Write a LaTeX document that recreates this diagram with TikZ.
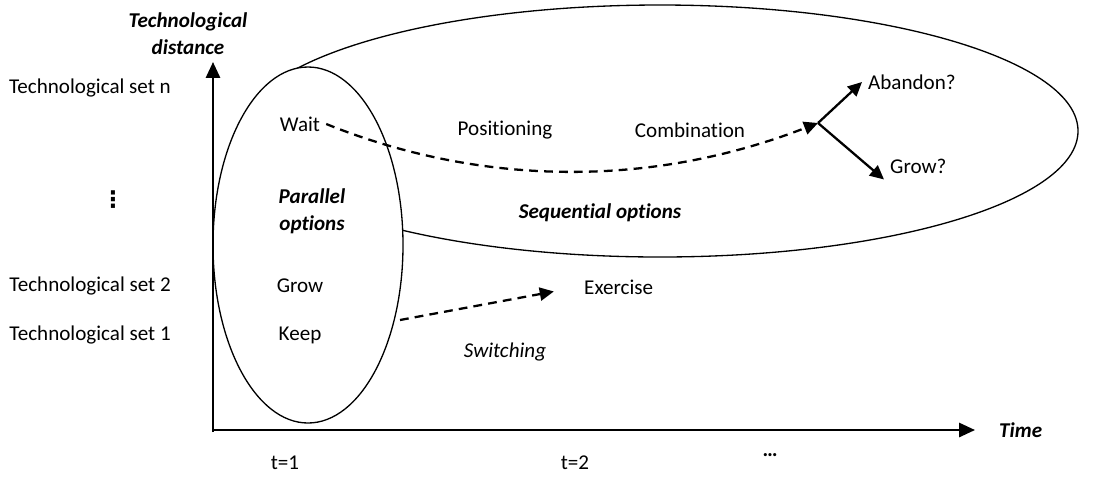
\documentclass[tikz,border=0pt]{standalone}
\usepackage{fontspec}
\setmainfont{Carlito}[Ligatures=NoCommon]
\newfontfamily\dotsfont{DejaVu Sans}
\usetikzlibrary{arrows.meta}

\tikzset{
  lbl/.style={font=\fontsize{12}{15}\selectfont},
  hdr/.style={font=\fontsize{12}{15.5}\selectfont\bfseries\itshape, align=center},
  axis/.style={line width=1.3pt, -{Triangle[length=9pt,width=8pt]}},
  opt/.style={line width=1.3pt, -{Triangle[length=8pt,width=7.5pt]}},
  dsh/.style={opt, dash pattern=on 5pt off 3.5pt},
  bound/.style={line width=0.75pt}
}

\begin{document}
\begin{tikzpicture}[x=0.02cm, y=-0.02cm, every node/.style={lbl}]
\useasboundingbox (0,0) rectangle (1094,478);

% option sets
\draw[bound] (660,131) ellipse [x radius=418, y radius=126];
\draw[bound, fill=white] (308,245) ellipse [x radius=95, y radius=178];

% axes
\coordinate (origin) at (213,432);
\coordinate (ytop) at (213,62);
\coordinate (xstart) at (213,430);
\coordinate (xend) at (975,430);
\draw[axis] (origin) -- (ytop);
\draw[axis] (xstart) -- (xend);
\node[hdr] (ylab) at (188,34) {Technological\\distance};
\node[hdr, anchor=west] (xlab) at (993,430) {Time};

% technological sets
\node[anchor=east] (setn) at (177,88) {Technological set n};
\node[font=\fontsize{13}{15}\dotsfont\bfseries] (vdots) at (113,200) {⋮};
\node[anchor=east] (set2) at (177,286) {Technological set 2};
\node[anchor=east] (set1) at (177,335) {Technological set 1};

% time steps
\node (t1) at (285,463) {t=1};
\node (t2) at (575,463) {t=2};
\node[font=\fontsize{12}{15}\selectfont\bfseries] (tdots) at (770,455) {…};

% parallel options
\node (wait) at (300,124) {Wait};
\node[hdr] (parallel) at (312,211) {Parallel\\options};
\node (grow) at (300,286) {Grow};
\node (keep) at (300,335) {Keep};

% sequential options
\node (positioning) at (505,130) {Positioning};
\node (combination) at (690,130) {Combination};
\node[hdr] (sequential) at (600,213) {Sequential options};
\coordinate (fork) at (818,123);
\node[anchor=west] (abandon) at (862,82) {Abandon?};
\node[anchor=west] (growq) at (884,166) {Grow?};
\draw[dsh] (wait.east) .. controls (470,182) and (640,192) .. (fork);
\draw[opt] (fork) -- (abandon.west);
\draw[opt] (fork) -- (growq.south west);

% switching
\coordinate (swstart) at (400,320);
\node[anchor=west] (exercise) at (578,287) {Exercise};
\node[font=\fontsize{12}{15}\selectfont\itshape] (switching) at (505,352) {Switching};
\draw[dsh, shorten >=14pt] (swstart) -- (exercise.west);
\end{tikzpicture}
\end{document}
